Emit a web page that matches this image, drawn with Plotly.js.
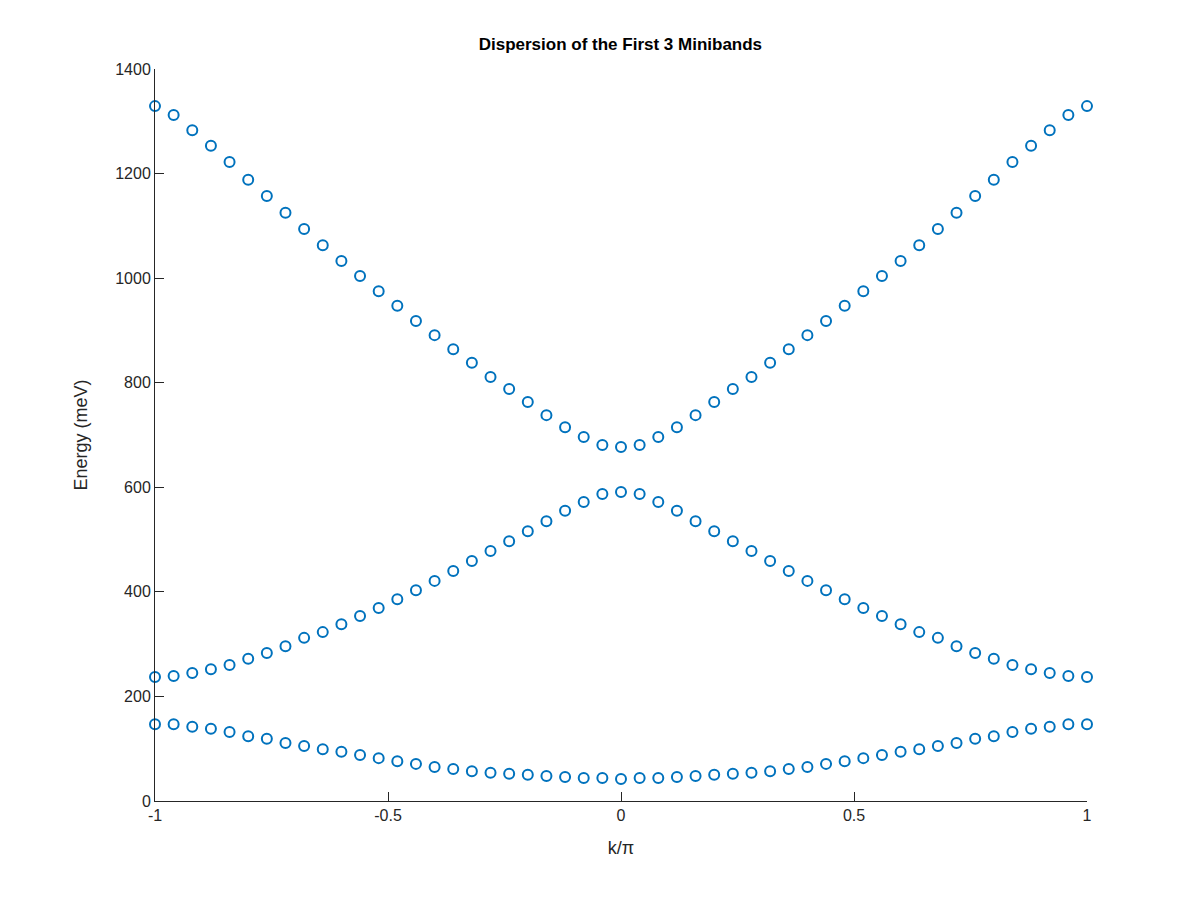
<!DOCTYPE html>
<html>
<head>
<meta charset="utf-8">
<script src="https://cdn.plot.ly/plotly-3.0.1.min.js"></script>
<style>body{margin:0;background:#fff}#chart{width:1200px;height:900px}</style>
</head>
<body>
<div id="chart"></div>
<script>
// wave vector k/pi, 51 samples
const k = [-1, -0.96, -0.92, -0.88, -0.84, -0.8, -0.76, -0.72, -0.68, -0.64, -0.6, -0.56, -0.52,
    -0.48, -0.44, -0.4, -0.36, -0.32, -0.28, -0.24, -0.2, -0.16, -0.12, -0.08, -0.04, 0,
    0.04, 0.08, 0.12, 0.16, 0.2, 0.24, 0.28, 0.32, 0.36, 0.4, 0.44, 0.48, 0.52,
    0.56, 0.6, 0.64, 0.68, 0.72, 0.76, 0.8, 0.84, 0.88, 0.92, 0.96, 1];

// energies (meV)
const band1 = [147, 147, 142, 138, 132, 124, 119, 111, 105, 99, 94, 88, 82, 76, 71, 65, 61, 57, 54, 52, 50, 48, 46, 44, 44, 42,
    44, 44, 46, 48, 50, 52, 54, 57, 61, 65, 71, 76, 82, 88, 94, 99, 105, 111, 119, 124, 132, 138, 142, 147, 147];
const band2 = [237, 239, 245, 252, 260, 272, 283, 296, 312, 323, 338, 354, 369, 386, 403, 421, 440, 459, 478, 497, 516, 535, 555, 572, 587, 591,
    587, 572, 555, 535, 516, 497, 478, 459, 440, 421, 403, 386, 369, 354, 338, 323, 312, 296, 283, 272, 260, 252, 245, 239, 237];
const band3 = [1329, 1312, 1283, 1253, 1222, 1188, 1157, 1125, 1094, 1063, 1033, 1004, 975, 947, 918, 891, 864, 838, 811, 788, 763, 738, 715, 696, 681, 677,
    681, 696, 715, 738, 763, 788, 811, 838, 864, 891, 918, 947, 975, 1004, 1033, 1063, 1094, 1125, 1157, 1188, 1222, 1253, 1283, 1312, 1329];

const xTicks = [-1, -0.5, 0, 0.5, 1];
const xTickText = ['-1', '-0.5', '0', '0.5', '1'];

const marker = {symbol: 'circle-open', size: 10, color: '#0072BD', line: {width: 2, color: '#0072BD'}};
const traces = [band1, band2, band3].map(b => ({
    x: k, y: b, type: 'scatter', mode: 'markers', marker: marker, showlegend: false, cliponaxis: false
}));

const layout = {
    width: 1200, height: 900,
    margin: {l: 155, r: 113, t: 69, b: 99},
    paper_bgcolor: '#fff', plot_bgcolor: '#fff',
    font: {family: 'Liberation Sans, Arial, sans-serif', color: '#262626', size: 16},
    title: {text: '<b>Dispersion of the First 3 Minibands</b>', font: {size: 17, color: '#000'}, x: 0.517, y: 0.958},
    xaxis: {
        range: [-1, 1], tickvals: xTicks, ticktext: xTickText,
        showline: true, linecolor: '#262626', linewidth: 1,
        ticks: 'inside', ticklen: 9, tickcolor: '#262626', showgrid: false, zeroline: false,
        tickfont: {size: 16, color: '#262626'},
        title: {text: 'k/π', font: {size: 18}, standoff: 18}
    },
    yaxis: {
        range: [0, 1400], tickvals: [0, 200, 400, 600, 800, 1000, 1200, 1400],
        showline: true, linecolor: '#262626', linewidth: 1,
        ticks: 'inside', ticklen: 9, tickcolor: '#262626', showgrid: false, zeroline: false,
        tickfont: {size: 16, color: '#262626'},
        title: {text: 'Energy (meV)', font: {size: 18}, standoff: 22}
    }
};

Plotly.newPlot('chart', traces, layout, {displayModeBar: false});
</script>
</body>
</html>
